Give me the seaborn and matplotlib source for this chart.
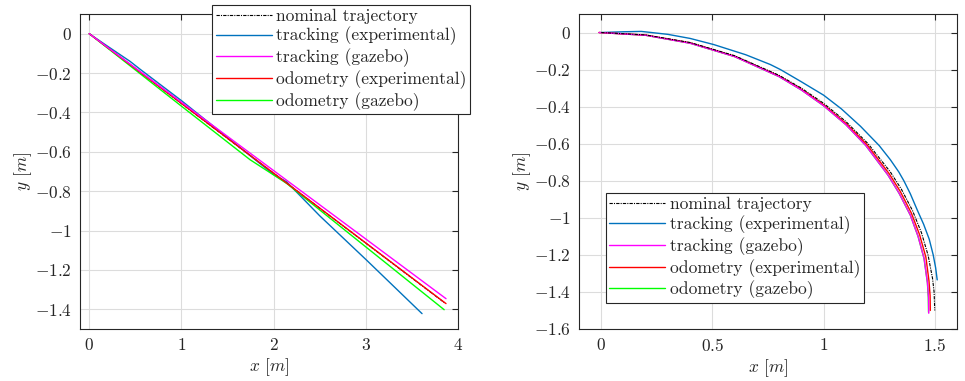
import numpy as np
import pandas as pd
import matplotlib
matplotlib.use('Agg')
import matplotlib.pyplot as plt
import seaborn as sns

# --- straight-line test (left) ---
line_nom_x = [0.0, 1.0, 2.0, 3.0, 3.86]
line_nom_y = [0.0, -0.355, -0.709, -1.064, -1.369]
line_trk_exp_x = [0.0, 0.2, 0.444, 0.55, 1.0, 1.6, 2.0, 2.14, 2.5, 3.01, 3.61]
line_trk_exp_y = [0.0, -0.064, -0.141, -0.180, -0.340, -0.565, -0.715, -0.752, -0.925, -1.151, -1.422]
line_trk_gaz_x = [0.0, 1.0, 2.14, 3.0, 3.87]
line_trk_gaz_y = [0.0, -0.348, -0.744, -1.043, -1.346]
line_odo_exp_x = [0.0, 1.0, 2.14, 3.0, 3.87]
line_odo_exp_y = [0.0, -0.354, -0.758, -1.063, -1.371]
line_odo_gaz_x = [0.0, 1.0, 1.744, 2.14, 3.0, 3.85]
line_odo_gaz_y = [0.0, -0.368, -0.640, -0.760, -1.083, -1.402]

# --- circular test (right) ---
arc_nom_x = [0.0, 0.2, 0.4, 0.6, 0.8, 0.9, 1.0, 1.1, 1.2, 1.3, 1.35, 1.4, 1.44, 1.47, 1.49, 1.497, 1.5]
arc_nom_y = [0.0, -0.013, -0.054, -0.125, -0.231, -0.300, -0.382, -0.480, -0.600, -0.752, -0.846,
             -0.961, -1.080, -1.202, -1.327, -1.400, -1.500]
arc_trk_exp_x = [0.0, 0.1, 0.18, 0.3, 0.4, 0.506, 0.65, 0.761, 0.806, 0.896, 1.0, 1.08, 1.166, 1.25,
                 1.30, 1.338, 1.361, 1.39, 1.421, 1.45, 1.475, 1.493, 1.504, 1.511]
arc_trk_exp_y = [0.0, 0.004, 0.006, -0.010, -0.032, -0.065, -0.120, -0.173, -0.200, -0.263, -0.338,
                 -0.412, -0.506, -0.610, -0.686, -0.752, -0.800, -0.870, -0.957, -1.035, -1.115,
                 -1.200, -1.270, -1.335]
arc_trk_gaz_x = [-0.01, 0.2, 0.4, 0.6, 0.8, 0.9, 1.0, 1.1, 1.19, 1.29, 1.34, 1.39, 1.425, 1.452,
                 1.467, 1.472, 1.473]
arc_trk_gaz_y = [0.0, -0.015, -0.058, -0.130, -0.238, -0.310, -0.395, -0.497, -0.610, -0.770, -0.868,
                 -0.985, -1.100, -1.220, -1.350, -1.430, -1.515]
arc_odo_exp_x = [-0.01, 0.2, 0.4, 0.6, 0.8, 0.9, 1.0, 1.1, 1.195, 1.295, 1.345, 1.395, 1.432, 1.460,
                 1.474, 1.479, 1.480]
arc_odo_exp_y = [0.0, -0.014, -0.056, -0.128, -0.235, -0.306, -0.390, -0.490, -0.605, -0.762, -0.858,
                 -0.975, -1.092, -1.212, -1.340, -1.420, -1.500]
arc_odo_gaz_x = [-0.01, 0.2, 0.4, 0.6, 0.8, 0.9, 1.0, 1.1, 1.19, 1.29, 1.34, 1.39, 1.425, 1.452,
                 1.467, 1.471, 1.472]
arc_odo_gaz_y = [0.0, -0.015, -0.058, -0.130, -0.238, -0.310, -0.395, -0.497, -0.610, -0.770, -0.868,
                 -0.985, -1.100, -1.220, -1.350, -1.430, -1.510]

labels = ['nominal trajectory', 'tracking (experimental)', 'tracking (gazebo)',
          'odometry (experimental)', 'odometry (gazebo)']
colors = ['black', '#0072BD', '#FF00FF', '#FF0000', '#00FF00']

left_xticks = [0, 1, 2, 3, 4]
left_yticks = [0, -0.2, -0.4, -0.6, -0.8, -1, -1.2, -1.4]
right_xticks = [0, 0.5, 1, 1.5]
right_yticks = [0, -0.2, -0.4, -0.6, -0.8, -1, -1.2, -1.4, -1.6]

sns.set_theme(style='white')
plt.rcParams['font.family'] = 'serif'
plt.rcParams['font.serif'] = ['cmr10', 'DejaVu Serif']
plt.rcParams['mathtext.fontset'] = 'cm'
plt.rcParams['axes.formatter.use_mathtext'] = True

fig = plt.figure(figsize=(9.65, 3.81), dpi=100)
ax1 = fig.add_axes([0.0829, 0.1365, 0.3917, 0.8268])
ax2 = fig.add_axes([0.6, 0.1365, 0.3917, 0.8268])


def draw(ax, series, zorders):
    for (xs, ys), lab, col, z in zip(series, labels, colors, zorders):
        df = pd.DataFrame({'x': xs, 'y': ys})
        if lab.startswith('nominal'):
            sns.lineplot(data=df, x='x', y='y', sort=False, estimator=None, ax=ax, color=col,
                         lw=0.8, linestyle=(0, (3, 1, 1, 1)), label=lab, zorder=z)
        else:
            sns.lineplot(data=df, x='x', y='y', sort=False, estimator=None, ax=ax, color=col,
                         lw=1.0, label=lab, zorder=z)


draw(ax1, [(line_nom_x, line_nom_y), (line_trk_exp_x, line_trk_exp_y), (line_trk_gaz_x, line_trk_gaz_y),
           (line_odo_exp_x, line_odo_exp_y), (line_odo_gaz_x, line_odo_gaz_y)], [2, 3, 6, 5, 4])
draw(ax2, [(arc_nom_x, arc_nom_y), (arc_trk_exp_x, arc_trk_exp_y), (arc_trk_gaz_x, arc_trk_gaz_y),
           (arc_odo_exp_x, arc_odo_exp_y), (arc_odo_gaz_x, arc_odo_gaz_y)], [6, 3, 5, 4, 2])


def style(ax, xlim, ylim, xt, yt):
    ax.set_xlim(*xlim)
    ax.set_ylim(*ylim)
    ax.set_xticks(xt)
    ax.set_xticklabels([f'${v:g}$' for v in xt])
    ax.set_yticks(yt)
    ax.set_yticklabels([f'${v:g}$' for v in yt])
    ax.grid(True, color='#dcdcdc', lw=0.8)
    ax.set_axisbelow(True)
    ax.tick_params(direction='in', top=True, right=True, length=4, width=0.8,
                   color='#262626', labelsize=12.5, labelcolor='#262626', pad=6)
    for s in ax.spines.values():
        s.set_color('#262626')
        s.set_linewidth(0.8)
    ax.set_xlabel('$x$ [$m$]', fontsize=12.5, color='#262626', labelpad=2)
    ax.set_ylabel('$y$ [$m$]', fontsize=12.5, color='#262626', labelpad=0.5)


style(ax1, (-0.1, 4), (-1.5, 0.1), left_xticks, left_yticks)
style(ax2, (-0.1, 1.6), (-1.6, 0.1), right_xticks, right_yticks)

leg_kw = dict(frameon=True, fancybox=False, shadow=False, framealpha=1, edgecolor='#262626',
              fontsize=12.6, handlelength=3.2, handletextpad=0.25, labelspacing=0.18,
              borderpad=0.2, borderaxespad=0)
l1 = ax1.legend(loc='upper right', bbox_to_anchor=(1.032, 1.029), **leg_kw)
l2 = ax2.legend(loc='lower left', bbox_to_anchor=(0.071, 0.083), **leg_kw)
for lg in (l1, l2):
    lg.get_frame().set_linewidth(0.8)
    lg.set_zorder(10)

fig.savefig('out.png', dpi=100)
